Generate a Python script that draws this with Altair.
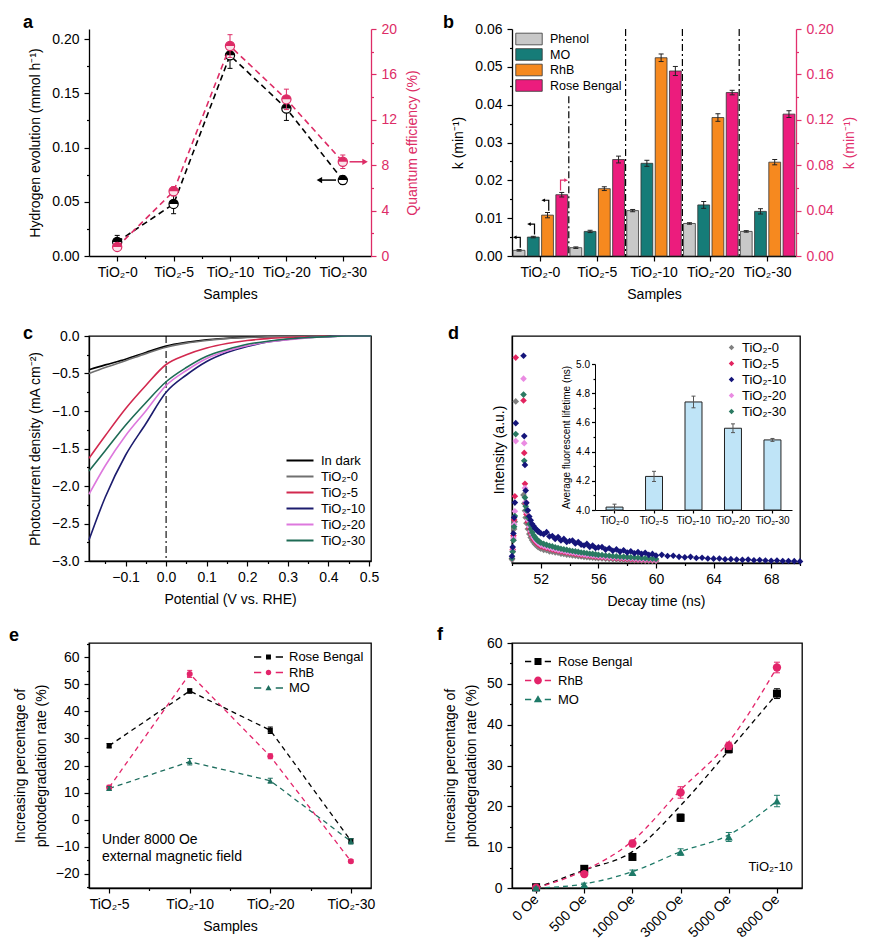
import json
import altair as alt
import pandas as pd

FONT = "Liberation Sans"

# ------------------------------------------------------------------ data
samples5 = ["TiO₂-0", "TiO₂-5", "TiO₂-10", "TiO₂-20", "TiO₂-30"]

# (a)
a_h2 = [0.013, 0.048, 0.185, 0.136, 0.070]
a_h2_err = [0.006, 0.009, 0.012, 0.011, 0.004]
a_qe = [0.8, 5.7, 18.5, 13.8, 8.3]
a_qe_err = [0.3, 0.4, 1.0, 0.9, 0.6]

# (b)
b_series = ["Phenol", "MO", "RhB", "Rose Bengal"]
b_colors = ["#C8C8C8", "#167C78", "#F6891F", "#EC1C7D"]
b_phenol = [0.0015, 0.0022, 0.0120, 0.0086, 0.0065]
b_phenol_err = [0.0002, 0.0002, 0.0003, 0.0002, 0.0002]
b_mo = [0.0050, 0.0065, 0.0245, 0.0135, 0.0118]
b_mo_err = [0.0002, 0.0003, 0.0008, 0.0009, 0.0007]
b_rhb = [0.0108, 0.0178, 0.0524, 0.0366, 0.0248]
b_rhb_err = [0.0007, 0.0005, 0.0010, 0.0010, 0.0007]
b_rose = [0.054, 0.085, 0.163, 0.144, 0.125]
b_rose_err = [0.002, 0.003, 0.004, 0.002, 0.003]
b_divider_top = [0.0422, 0.06, 0.06, 0.06]

# (c)
c_series = ["In dark", "TiO₂-0", "TiO₂-5", "TiO₂-10", "TiO₂-20", "TiO₂-30"]
c_colors = ["#000000", "#707070", "#D2294F", "#1C1C6E", "#DD78DD", "#1E6B55"]
c_potential = [-0.19, -0.15, -0.1, -0.05, 0.0, 0.05, 0.1, 0.15, 0.2, 0.25, 0.3, 0.35, 0.4, 0.45, 0.505]
c_dark = [-0.45, -0.385, -0.31, -0.22, -0.135, -0.085, -0.05, -0.03, -0.015, -0.008, -0.004, -0.002, 0.0, 0.0, 0.0]
c_tio2_0 = [-0.50, -0.42, -0.33, -0.235, -0.15, -0.095, -0.06, -0.035, -0.02, -0.01, -0.005, -0.002, 0.0, 0.0, 0.0]
c_tio2_5 = [-1.63, -1.33, -0.97, -0.66, -0.38, -0.25, -0.16, -0.10, -0.06, -0.035, -0.02, -0.01, -0.004, 0.0, 0.0]
c_tio2_10 = [-2.72, -2.15, -1.59, -1.17, -0.75, -0.52, -0.34, -0.22, -0.14, -0.08, -0.045, -0.02, -0.008, 0.0, 0.0]
c_tio2_20 = [-2.11, -1.73, -1.33, -1.0, -0.66, -0.46, -0.30, -0.20, -0.13, -0.08, -0.05, -0.025, -0.01, 0.0, 0.0]
c_tio2_30 = [-1.80, -1.53, -1.19, -0.89, -0.61, -0.42, -0.27, -0.18, -0.11, -0.07, -0.04, -0.02, -0.008, 0.0, 0.0]

# (d)
d_colors = ["#808080", "#E2245F", "#15157A", "#EA8BE2", "#2B7A62"]
d_time = [50.0, 50.05, 50.1, 50.15, 50.2, 50.26, 50.8, 50.85, 50.9, 50.95,
          51.0, 51.1, 51.2, 51.3, 51.4, 51.5, 51.6, 51.7, 51.8, 51.9, 52.0,
          52.2, 52.4, 52.6, 52.8, 53.0, 53.2, 53.4, 53.6, 53.8, 54.0,
          54.2, 54.4, 54.6, 54.8, 55.0, 55.2, 55.4, 55.6, 55.8, 56.0,
          56.25, 56.5, 56.75, 57.0, 57.25, 57.5, 57.75, 58.0,
          58.25, 58.5, 58.75, 59.0, 59.25, 59.5, 59.75, 60.0]
d_tio2_0 = [0.015, 0.05, 0.10, 0.15, 0.182, 0.712, 0.300, 0.262, 0.230, 0.200,
            0.175, 0.150, 0.128, 0.112, 0.100, 0.091, 0.083, 0.077, 0.071, 0.067, 0.063,
            0.058, 0.056, 0.051, 0.050, 0.046, 0.045, 0.041, 0.040, 0.037, 0.036,
            0.033, 0.032, 0.030, 0.029, 0.027, 0.026, 0.024, 0.023, 0.022, 0.021,
            0.020, 0.019, 0.018, 0.017, 0.016, 0.015, 0.014, 0.014,
            0.013, 0.012, 0.012, 0.011, 0.010, 0.010, 0.009, 0.009]
d_tio2_5 = [0.02, 0.06, 0.12, 0.19, 0.294, 0.905, 0.716, 0.485, 0.349, 0.262,
            0.215, 0.180, 0.152, 0.133, 0.118, 0.105, 0.097, 0.090, 0.083, 0.079, 0.074,
            0.070, 0.066, 0.063, 0.060, 0.056, 0.054, 0.051, 0.049, 0.046, 0.044,
            0.043, 0.040, 0.039, 0.036, 0.035, 0.033, 0.032, 0.030, 0.029, 0.027,
            0.026, 0.025, 0.023, 0.022, 0.021, 0.020, 0.019, 0.018,
            0.017, 0.016, 0.015, 0.015, 0.014, 0.013, 0.012, 0.012]
d_tio2_10 = [0.03, 0.07, 0.13, 0.20, 0.266, 0.616, 0.913, 0.559, 0.432, 0.319,
             0.265, 0.232, 0.205, 0.188, 0.172, 0.163, 0.152, 0.148, 0.139, 0.136, 0.131,
             0.127, 0.136, 0.117, 0.119, 0.106, 0.114, 0.099, 0.106, 0.093, 0.097,
             0.099, 0.086, 0.092, 0.081, 0.077, 0.084, 0.071, 0.077, 0.066, 0.069,
             0.070, 0.059, 0.065, 0.054, 0.060, 0.050, 0.056, 0.046,
             0.052, 0.043, 0.048, 0.040, 0.045, 0.036, 0.040, 0.033]
d_tio2_20 = [0.02, 0.055, 0.11, 0.17, 0.228, 0.537, 0.812, 0.528, 0.330, 0.270,
             0.225, 0.190, 0.160, 0.140, 0.125, 0.112, 0.103, 0.096, 0.090, 0.085, 0.080,
             0.075, 0.071, 0.068, 0.064, 0.061, 0.058, 0.055, 0.053, 0.050, 0.048,
             0.046, 0.044, 0.042, 0.040, 0.038, 0.036, 0.035, 0.033, 0.032, 0.030,
             0.029, 0.027, 0.026, 0.025, 0.024, 0.023, 0.022, 0.021,
             0.020, 0.019, 0.018, 0.017, 0.016, 0.016, 0.015, 0.014]
d_tio2_30 = [0.02, 0.05, 0.10, 0.16, 0.207, 0.568, 0.742, 0.450, 0.288, 0.250,
             0.232, 0.200, 0.172, 0.150, 0.135, 0.122, 0.113, 0.105, 0.098, 0.094, 0.089,
             0.084, 0.080, 0.076, 0.073, 0.069, 0.066, 0.063, 0.060, 0.058, 0.055,
             0.053, 0.051, 0.049, 0.046, 0.045, 0.043, 0.041, 0.040, 0.038, 0.036,
             0.035, 0.033, 0.032, 0.030, 0.029, 0.028, 0.027, 0.026,
             0.025, 0.024, 0.023, 0.022, 0.021, 0.020, 0.019, 0.018]
d_tail_time = [60.4, 60.8, 61.2, 61.6, 62.0, 62.4, 62.8, 63.2, 63.6, 64.0, 64.4, 64.8, 65.2,
               65.6, 66.0, 66.4, 66.8, 67.2, 67.6, 68.0, 68.4, 68.8, 69.2, 69.6, 70.0]
d_tail_tio2_10 = [0.036, 0.031, 0.032, 0.027, 0.025, 0.027, 0.022, 0.023, 0.020, 0.019, 0.020, 0.016, 0.017,
                  0.015, 0.014, 0.015, 0.012, 0.013, 0.011, 0.010, 0.011, 0.009, 0.009, 0.008, 0.007]
d_life = [4.02, 4.23, 4.74, 4.56, 4.48]
d_life_err = [0.02, 0.035, 0.04, 0.03, 0.01]

# (e)
e_samples = ["TiO₂-5", "TiO₂-10", "TiO₂-20", "TiO₂-30"]
e_series = ["Rose Bengal", "RhB", "MO"]
e_colors = ["#000000", "#E3246A", "#1E6E5E"]
e_rose = [27.3, 47.5, 33.0, -7.8]
e_rose_err = [0.8, 0.8, 1.2, 0.8]
e_rhb = [11.9, 53.8, 23.4, -15.3]
e_rhb_err = [0.8, 1.3, 0.9, 0.6]
e_mo = [11.5, 21.4, 14.4, -8.0]
e_mo_err = [0.7, 1.2, 0.9, 1.0]

# (f)
f_fields = ["0 Oe", "500 Oe", "1000 Oe", "3000 Oe", "5000 Oe", "8000 Oe"]
f_series = ["Rose Bengal", "RhB", "MO"]
f_colors = ["#000000", "#E3246A", "#1E7A68"]
f_rose = [0.2, 4.7, 7.6, 17.2, 34.0, 47.6]
f_rose_err = [0.3, 0.5, 0.6, 0.9, 0.9, 1.2]
f_rhb = [0.1, 3.4, 10.9, 23.4, 34.8, 54.0]
f_rhb_err = [0.3, 0.6, 0.8, 1.4, 0.9, 1.3]
f_mo = [0.0, 0.8, 3.8, 8.8, 12.5, 21.3]
f_mo_err = [0.2, 0.4, 0.6, 0.8, 1.1, 1.4]
f_rose_fit = [0.0, 4.4, 8.9, 20.2, 33.7, 47.6]
f_rhb_fit = [0.0, 4.3, 11.5, 24.0, 35.8, 54.0]
f_mo_fit = [0.0, 1.0, 4.0, 8.9, 13.0, 21.3]


# ------------------------------------------------------------------ helpers
def steps(start, stop, step):
    n = int(round((stop - start) / step))
    return [round(start + i * step, 6) for i in range(n + 1)]


def is_major(step, origin=0.0):
    return f"abs((datum.value - {origin}) / {step} - round((datum.value - {origin}) / {step})) < 0.01"


def minor_props(step, origin=0.0):
    test = is_major(step, origin)
    return dict(tickSize={"condition": {"test": test, "value": 5}, "value": 2.5},
                labelExpr=f"{test} ? datum.label : ''")


def cat_props(labels):
    test = is_major(1)
    arr = json.dumps(labels, ensure_ascii=False)
    return dict(tickSize={"condition": {"test": test, "value": 5}, "value": 2.5},
                labelExpr=f"{test} ? {arr}[round(datum.value)] : ''")


def err_layers(data, xenc, ybuild, lo, hi, color, cap=5, xoff=None):
    extra = {}
    if xoff is not None:
        extra["xOffset"] = xoff
    base = alt.Chart(data)
    r = base.mark_rule(strokeWidth=1, color=color).encode(x=xenc, y=ybuild(lo), y2=alt.Y2(hi), **extra)
    t1 = base.mark_tick(orient="horizontal", size=cap, thickness=1, opacity=1, color=color).encode(
        x=xenc, y=ybuild(lo), **extra)
    t2 = base.mark_tick(orient="horizontal", size=cap, thickness=1, opacity=1, color=color).encode(
        x=xenc, y=ybuild(hi), **extra)
    return [r, t1, t2]


def letter(txt, dx, dy):
    return alt.Chart(pd.DataFrame({"t": [txt]})).mark_text(
        align="left", baseline="alphabetic", fontSize=18, fontWeight="bold", color="black").encode(
        x=alt.value(dx), y=alt.value(dy), text="t:N")


TOP_HALF = "M-1,0A1,1 0 0,1 1,0Z"
RECT = "M-1,-0.44L1,-0.44L1,0.44L-1,0.44Z"
ARROW_L = "M-1,-0.7L-0.4,-1L-0.4,-0.4Z M-0.4,-0.8L0.3,-0.8L0.3,1L0.1,1L0.1,-0.6L-0.4,-0.6Z"
ARROW_R = "M1,-0.7L0.4,-1L0.4,-0.4Z M0.4,-0.8L-0.3,-0.8L-0.3,1L-0.1,1L-0.1,-0.6L0.4,-0.6Z"

# ------------------------------------------------------------------ panel a
PINK_A = "#DD2C66"
da = pd.DataFrame({"idx": list(range(5)), "h2": a_h2, "h2e": a_h2_err, "qe": a_qe, "qee": a_qe_err})
da["h2_lo"] = da["h2"] - da["h2e"]
da["h2_hi"] = da["h2"] + da["h2e"]
da["qe_lo"] = da["qe"] - da["qee"]
da["qe_hi"] = da["qe"] + da["qee"]


def xa(field):
    return alt.X(f"{field}:Q", scale=alt.Scale(domain=[-0.5, 4.5], nice=False, zero=False),
                 axis=alt.Axis(values=steps(0, 4, 0.5), title="Samples", orient="bottom",
                               **cat_props(samples5)))


def ya_l(field):
    return alt.Y(f"{field}:Q", scale=alt.Scale(domain=[0, 0.2093], nice=False, zero=False),
                 axis=alt.Axis(values=steps(0, 0.2, 0.025), format=".2f",
                               title="Hydrogen evolution (mmol h⁻¹)", orient="left", **minor_props(0.05)))


def ya_r(field):
    return alt.Y(f"{field}:Q", scale=alt.Scale(domain=[0, 20], nice=False, zero=False),
                 axis=alt.Axis(values=steps(0, 20, 2), title="Quantum efficiency (%)", orient="right",
                               labelColor=PINK_A, titleColor=PINK_A, domainColor=PINK_A, tickColor=PINK_A,
                               titleAngle=270, titleBaseline="top", **minor_props(4)))


a_arrow_l = pd.DataFrame({"x1": [3.62], "x2": [3.88], "head": [3.585], "y": [a_h2[4]]})
a_arrow_r = pd.DataFrame({"x1": [4.12], "x2": [4.36], "head": [4.395], "y": [a_qe[4]]})

ba = alt.Chart(da)
left_a = alt.layer(
    ba.mark_line(color="black", strokeDash=[6, 4], strokeWidth=1.6).encode(x=xa("idx"), y=ya_l("h2")),
    *err_layers(da, xa("idx"), ya_l, "h2_lo", "h2_hi", "black", cap=5),
    ba.mark_point(shape="circle", filled=True, fill="white", stroke="black", strokeWidth=1.2, size=85,
                  opacity=1).encode(x=xa("idx"), y=ya_l("h2")),
    ba.mark_point(shape=TOP_HALF, filled=True, color="black", size=85, opacity=1).encode(
        x=xa("idx"), y=ya_l("h2")),
    alt.Chart(a_arrow_l).mark_rule(color="black", strokeWidth=1.5).encode(
        x=xa("x1"), x2="x2:Q", y=ya_l("y")),
    alt.Chart(a_arrow_l).mark_point(shape="triangle-left", filled=True, color="black", size=40,
                                    opacity=1).encode(x=xa("head"), y=ya_l("y")),
)
right_a = alt.layer(
    ba.mark_line(color=PINK_A, strokeDash=[6, 4], strokeWidth=1.6).encode(x=xa("idx"), y=ya_r("qe")),
    *err_layers(da, xa("idx"), ya_r, "qe_lo", "qe_hi", PINK_A, cap=5),
    ba.mark_point(shape="circle", filled=True, fill="#FBE3EA", stroke=PINK_A, strokeWidth=1.2, size=85,
                  opacity=1).encode(x=xa("idx"), y=ya_r("qe")),
    ba.mark_point(shape=TOP_HALF, filled=True, color=PINK_A, size=85, opacity=1).encode(
        x=xa("idx"), y=ya_r("qe")),
    alt.Chart(a_arrow_r).mark_rule(color=PINK_A, strokeWidth=1.5).encode(
        x=xa("x1"), x2="x2:Q", y=ya_r("y")),
    alt.Chart(a_arrow_r).mark_point(shape="triangle-right", filled=True, color=PINK_A, size=40,
                                    opacity=1).encode(x=xa("head"), y=ya_r("y")),
    letter("a", -66, -1),
)
panel_a = alt.layer(left_a, right_a).resolve_scale(y="independent").properties(
    width=282, height=227, view=alt.ViewBackground(stroke="transparent"))

# ------------------------------------------------------------------ panel b
PINK_B = "#E2306E"
rows = []
for s, vals, errs in zip(b_series, [b_phenol, b_mo, b_rhb, b_rose],
                         [b_phenol_err, b_mo_err, b_rhb_err, b_rose_err]):
    for smp, v, e in zip(samples5, vals, errs):
        rows.append({"sample": smp, "ser_b": s, "k": v, "lo": v - e, "hi": v + e})
db = pd.DataFrame(rows)
db_l = db[db["ser_b"] != "Rose Bengal"].copy()
db_r = db[db["ser_b"] == "Rose Bengal"].copy()
db_arr_l = db_l[db_l["sample"] == samples5[0]].copy()
db_arr_l["ay"] = db_arr_l["hi"] + 0.0021
db_arr_r = db_r[db_r["sample"] == samples5[0]].copy()
db_arr_r["ay"] = db_arr_r["hi"] + 0.007
db_div = pd.DataFrame({"sample": samples5[1:], "top": b_divider_top, "bottom": [0.0] * 4})

xb_scale = alt.Scale(domain=samples5, paddingInner=0, paddingOuter=0)
xb_axis = alt.Axis(title="Samples", labelAngle=0, orient="bottom")
xb = alt.X("sample:N", scale=xb_scale, axis=xb_axis, sort=samples5)
xob = alt.XOffset("ser_b:N", scale=alt.Scale(domain=b_series, paddingInner=0.17, paddingOuter=0.08))


def yb_l(field):
    return alt.Y(f"{field}:Q", scale=alt.Scale(domain=[0, 0.06], nice=False, zero=True),
                 axis=alt.Axis(values=steps(0, 0.06, 0.005), format=".2f",
                               title="k (min⁻¹)", orient="left", **minor_props(0.01)))


def yb_r(field):
    return alt.Y(f"{field}:Q", scale=alt.Scale(domain=[0, 0.2], nice=False, zero=True),
                 axis=alt.Axis(values=steps(0, 0.2, 0.02), format=".2f", title="k (min⁻¹)",
                               orient="right", labelColor=PINK_B, titleColor=PINK_B, domainColor=PINK_B,
                               tickColor=PINK_B, titleAngle=270, titleBaseline="top", **minor_props(0.04)))


leg_b = alt.Legend(title=None, orient="none", legendX=3, legendY=3, symbolType=RECT, symbolSize=700,
                   symbolStrokeColor="#333333", symbolStrokeWidth=0.8, labelFontSize=12.5, clipHeight=14,
                   rowPadding=1.5, labelOffset=7)
left_b = alt.layer(
    alt.Chart(db_l).mark_bar(stroke="#333333", strokeWidth=0.8).encode(
        x=xb, xOffset=xob, y=yb_l("k"),
        color=alt.Color("ser_b:N", scale=alt.Scale(domain=b_series, range=b_colors), legend=leg_b)),
    *err_layers(db_l, xb, yb_l, "lo", "hi", "#222222", cap=5, xoff=xob),
    alt.Chart(db_div).mark_rule(color="black", strokeDash=[7, 3, 2, 3], strokeWidth=1.2).encode(
        x=alt.X("sample:N", scale=xb_scale, axis=xb_axis, sort=samples5, bandPosition=0),
        y=yb_l("top"), y2="bottom:Q"),
    alt.Chart(db_arr_l).mark_point(shape=ARROW_L, filled=True, color="black", size=150, opacity=1).encode(
        x=xb, xOffset=xob, y=yb_l("ay")),
)
right_b = alt.layer(
    alt.Chart(db_r).mark_bar(stroke="#333333", strokeWidth=0.8, color=b_colors[3]).encode(
        x=xb, xOffset=xob, y=yb_r("k")),
    *err_layers(db_r, xb, yb_r, "lo", "hi", "#222222", cap=5, xoff=xob),
    alt.Chart(db_arr_r).mark_point(shape=ARROW_R, filled=True, color=PINK_B, size=150, opacity=1).encode(
        x=xb, xOffset=xob, y=yb_r("ay")),
    letter("b", -69, -1),
)
panel_b = alt.layer(left_b, right_b).resolve_scale(y="independent").properties(
    width=284, height=227, view=alt.ViewBackground(stroke="transparent"))

# ------------------------------------------------------------------ panel c
rows = []
for s, vals in zip(c_series, [c_dark, c_tio2_0, c_tio2_5, c_tio2_10, c_tio2_20, c_tio2_30]):
    for p, v in zip(c_potential, vals):
        rows.append({"pot": p, "j": v, "ser_c": s})
dc = pd.DataFrame(rows)


def xc(field):
    return alt.X(f"{field}:Q", scale=alt.Scale(domain=[-0.19, 0.505], nice=False, zero=False),
                 axis=alt.Axis(values=steps(-0.15, 0.5, 0.05), format=".1f",
                               title="Potential (V vs. RHE)", orient="bottom", **minor_props(0.1)))


yc = alt.Y("j:Q", scale=alt.Scale(domain=[-3, 0], nice=False, zero=False),
           axis=alt.Axis(values=steps(-3, 0, 0.25), format=".1f",
                         title="Photocurrent density (mA cm⁻²)", orient="left", **minor_props(0.5)))
leg_c = alt.Legend(title=None, orient="none", legendX=196, legendY=118, symbolType="stroke", symbolSize=729,
                   symbolStrokeWidth=2.2, labelFontSize=13, clipHeight=13, rowPadding=2, labelOffset=6)
panel_c = alt.layer(
    alt.Chart(pd.DataFrame({"pot": [0.0]})).mark_rule(color="black", strokeDash=[7, 3, 2, 3],
                                                      strokeWidth=1.1).encode(x=xc("pot")),
    alt.Chart(dc).mark_line(strokeWidth=1.6, interpolate="monotone").encode(
        x=xc("pot"), y=yc,
        color=alt.Color("ser_c:N", scale=alt.Scale(domain=c_series, range=c_colors), legend=leg_c,
                        sort=c_series)),
    letter("c", -66, 3),
).properties(width=282, height=225)

# ------------------------------------------------------------------ panel d
rows = []
draw_order = [("TiO₂-0", d_tio2_0), ("TiO₂-5", d_tio2_5), ("TiO₂-20", d_tio2_20), ("TiO₂-30", d_tio2_30),
              ("TiO₂-10", d_tio2_10)]
for s, vals in draw_order:
    assert len(vals) == len(d_time)
    for t, v in zip(d_time, vals):
        rows.append({"t": t, "I": v, "ser_d": s})
for t, v in zip(d_tail_time, d_tail_tio2_10):
    rows.append({"t": t, "I": v, "ser_d": "TiO₂-10"})
dd = pd.DataFrame(rows)

di = pd.DataFrame({"sample": samples5, "life": d_life, "err": d_life_err})
di["lo"] = di["life"] - di["err"]
di["hi"] = di["life"] + di["err"]
di["base"] = 4.0

leg_d = alt.Legend(title=None, orient="none", legendX=213, legendY=5, symbolType="diamond", symbolSize=30,
                   labelFontSize=13, clipHeight=13, rowPadding=2, labelOffset=4)
main_d = alt.layer(
    alt.Chart(dd).mark_point(shape="diamond", filled=True, size=44, opacity=1).encode(
        x=alt.X("t:Q", scale=alt.Scale(domain=[50, 70], nice=False, zero=False),
                axis=alt.Axis(values=steps(50, 70, 2), format="d", title="Decay time (ns)", orient="bottom",
                              **minor_props(4, 52))),
        y=alt.Y("I:Q", scale=alt.Scale(domain=[0, 1], nice=False),
                axis=alt.Axis(labels=False, ticks=False, title="Intensity (a.u.)", orient="left",
                              titlePadding=6)),
        color=alt.Color("ser_d:N", scale=alt.Scale(domain=samples5, range=d_colors), legend=leg_d),
    ),
    letter("d", -64, 3),
)
xi = alt.X("sample:N", sort=samples5,
           scale=alt.Scale(domain=samples5, range=[83, 280], paddingInner=0.57, paddingOuter=0.28),
           axis=alt.Axis(title=None, orient="bottom", offset=-53, labelFontSize=10, labelAngle=0, tickSize=3,
                         labelPadding=2, domainWidth=1))


def yi(field):
    return alt.Y(f"{field}:Q", scale=alt.Scale(domain=[4.0, 5.0], range=[174, 28], nice=False, zero=False),
                 axis=alt.Axis(values=steps(4.0, 5.0, 0.1), format=".1f",
                               title="Average fluorescent lifetime (ns)", titleFontSize=10, labelFontSize=10,
                               orient="left", offset=-83, labelPadding=2, titlePadding=4, domainWidth=1,
                               tickSize={"condition": {"test": is_major(0.2), "value": 3.5}, "value": 2},
                               labelExpr=f"{is_major(0.2)} ? datum.label : ''"))


inset_d = alt.layer(
    alt.Chart(di).mark_bar(fill="#BFE4F7", stroke="#222222", strokeWidth=1).encode(
        x=xi, y=yi("life"), y2="base:Q"),
    *err_layers(di, xi, yi, "lo", "hi", "#555555", cap=4),
)
panel_d = alt.layer(main_d, inset_d).resolve_scale(x="independent", y="independent").properties(
    width=288, height=227)

# ------------------------------------------------------------------ panel e
rows = []
for s, vals, errs in zip(e_series, [e_rose, e_rhb, e_mo], [e_rose_err, e_rhb_err, e_mo_err]):
    for i, (v, e) in enumerate(zip(vals, errs)):
        rows.append({"idx": i, "ser_e": s, "v": v, "lo": v - e, "hi": v + e})
de = pd.DataFrame(rows)


def xe(field):
    return alt.X(f"{field}:Q", scale=alt.Scale(domain=[-0.25, 3.25], nice=False, zero=False),
                 axis=alt.Axis(values=steps(0, 3, 0.5), title="Samples", orient="bottom",
                               **cat_props(e_samples)))


def ye(field):
    return alt.Y(f"{field}:Q", scale=alt.Scale(domain=[-25.2, 65.2], nice=False, zero=False),
                 axis=alt.Axis(values=steps(-25, 65, 5),
                               title=["Increasing percentage of", "photodegradation rate (%)"],
                               orient="left", titlePadding=7, titleLineHeight=21, **minor_props(10)))


e_cscale = alt.Scale(domain=e_series, range=e_colors)
DASH_E = "M-1,-0.05L-0.5,-0.05L-0.5,0.05L-1,0.05Z M0.5,-0.05L1,-0.05L1,0.05L0.5,0.05Z "
glyph_e = [DASH_E + "M-0.17,-0.17L0.17,-0.17L0.17,0.17L-0.17,0.17Z",
           DASH_E + "M0.19,0A0.19,0.19 0 1,1 -0.19,0A0.19,0.19 0 1,1 0.19,0Z",
           DASH_E + "M0,-0.2L0.21,0.15L-0.21,0.15Z"]
leg_e = alt.Legend(title=None, orient="none", legendX=164, legendY=7, symbolSize=841, clipHeight=14,
                   rowPadding=1.5, labelFontSize=13, labelOffset=5)
e_shapes = ["square", "circle", "triangle-up"]
e_sizes = [26, 36, 34]
e_layers = []
for s, c in zip(e_series, e_colors):
    sub = de[de["ser_e"] == s]
    e_layers.append(alt.Chart(sub).mark_line(strokeDash=[5, 4], strokeWidth=1.3, color=c).encode(
        x=xe("idx"), y=ye("v")))
for s, c, shp, sz in zip(e_series, e_colors, e_shapes, e_sizes):
    sub = de[de["ser_e"] == s]
    e_layers.extend(err_layers(sub, xe("idx"), ye, "lo", "hi", c, cap=5))
    e_layers.append(alt.Chart(sub).mark_point(shape=shp, filled=True, color=c, size=sz, opacity=1).encode(
        x=xe("idx"), y=ye("v")))
e_layers.append(alt.Chart(de).transform_filter("false").mark_point(filled=True, opacity=1).encode(
    color=alt.Color("ser_e:N", scale=e_cscale, legend=leg_e),
    shape=alt.Shape("ser_e:N", scale=alt.Scale(domain=e_series, range=glyph_e), legend=leg_e)))
e_note = pd.DataFrame({"x": [-0.09], "y": [-5.0], "text": ["Under 8000 Oe\nexternal magnetic field"]})
e_layers.append(alt.Chart(e_note).mark_text(align="left", baseline="top", fontSize=14, lineBreak="\n",
                                            lineHeight=17, color="black").encode(
    x=xe("x"), y=ye("y"), text="text:N"))
e_layers.append(letter("e", -80, -2))
panel_e = alt.layer(*e_layers).properties(width=282, height=245)

# ------------------------------------------------------------------ panel f
rows = []
for s, vals, errs, fits in zip(f_series, [f_rose, f_rhb, f_mo], [f_rose_err, f_rhb_err, f_mo_err],
                               [f_rose_fit, f_rhb_fit, f_mo_fit]):
    for i, (v, e, ft) in enumerate(zip(vals, errs, fits)):
        rows.append({"idx": i, "ser_f": s, "v": v, "lo": v - e, "hi": v + e, "fit": ft})
dfr = pd.DataFrame(rows)


def xf(field):
    return alt.X(f"{field}:Q", scale=alt.Scale(domain=[-0.5, 5.52], nice=False, zero=False),
                 axis=alt.Axis(values=[0, 1, 2, 3, 4, 5], labelExpr=json.dumps(f_fields) + "[round(datum.value)]",
                               title=None, orient="bottom", labelAngle=315, labelAlign="right",
                               labelBaseline="middle", labelPadding=4))


def yf(field):
    return alt.Y(f"{field}:Q", scale=alt.Scale(domain=[0, 60], nice=False, zero=False),
                 axis=alt.Axis(values=steps(0, 60, 5),
                               title=["Increasing percentage of", "photodegradation rate (%)"],
                               orient="left", titlePadding=8, titleLineHeight=21, **minor_props(10)))


f_cscale = alt.Scale(domain=f_series, range=f_colors)
DASH_F = "M-1,-0.06L-0.52,-0.06L-0.52,0.06L-1,0.06Z M0.52,-0.06L1,-0.06L1,0.06L0.52,0.06Z "
glyph_f = [DASH_F + "M-0.27,-0.27L0.27,-0.27L0.27,0.27L-0.27,0.27Z",
           DASH_F + "M0.3,0A0.3,0.3 0 1,1 -0.3,0A0.3,0.3 0 1,1 0.3,0Z",
           DASH_F + "M0,-0.32L0.32,0.22L-0.32,0.22Z"]
leg_f = alt.Legend(title=None, orient="none", legendX=12, legendY=10, symbolSize=676, clipHeight=17,
                   rowPadding=2, labelFontSize=13, labelOffset=6)
f_shapes = ["square", "circle", "triangle-up"]
f_sizes = [64, 70, 64]
f_layers = []
for s, c in zip(f_series, f_colors):
    sub = dfr[dfr["ser_f"] == s]
    f_layers.append(alt.Chart(sub).mark_line(strokeDash=[5, 4], strokeWidth=1.3, color=c,
                                             interpolate="monotone").encode(x=xf("idx"), y=yf("fit")))
for s, c, shp, sz in zip(f_series, f_colors, f_shapes, f_sizes):
    sub = dfr[dfr["ser_f"] == s]
    f_layers.extend(err_layers(sub, xf("idx"), yf, "lo", "hi", c, cap=6))
    f_layers.append(alt.Chart(sub).mark_point(shape=shp, filled=True, color=c, size=sz, opacity=1).encode(
        x=xf("idx"), y=yf("v")))
f_layers.append(alt.Chart(dfr).transform_filter("false").mark_point(filled=True, opacity=1).encode(
    color=alt.Color("ser_f:N", scale=f_cscale, legend=leg_f),
    shape=alt.Shape("ser_f:N", scale=alt.Scale(domain=f_series, range=glyph_f), legend=leg_f)))
f_note = pd.DataFrame({"x": [5.33], "y": [4.2], "text": ["TiO₂-10"]})
f_layers.append(alt.Chart(f_note).mark_text(align="right", baseline="alphabetic", fontSize=13,
                                            color="black").encode(x=xf("x"), y=yf("y"), text="text:N"))
f_layers.append(letter("f", -75, -3))
panel_f = alt.layer(*f_layers).properties(width=290, height=245)

# ------------------------------------------------------------------ assemble
chart = alt.concat(panel_a, panel_b, panel_c, panel_d, panel_e, panel_f, columns=2,
                   spacing={"row": 80, "column": 141}, bounds="flush").resolve_scale(
    color="independent", shape="independent").properties(
    padding={"left": 0, "top": 5, "right": 5, "bottom": 5}
).configure(font=FONT).configure_view(stroke="black", strokeWidth=1.3).configure_axis(
    domainColor="black", domainWidth=1.3, tickColor="black", tickWidth=1.2, tickSize=5,
    labelColor="black", titleColor="black", labelFontSize=14, titleFontSize=14, titleFontWeight="normal",
    grid=False, labelFont=FONT, titleFont=FONT, labelFlush=False, labelOverlap=False
).configure_axisLeft(labelPadding=5, titlePadding=9).configure_axisRight(
    labelPadding=5, titlePadding=9).configure_axisBottom(labelPadding=4, titlePadding=8).configure_legend(
    labelFont=FONT, labelColor="black").configure_point(opacity=1).configure_tick(opacity=1)

chart.save("out.html", embed_options={"renderer": "svg", "actions": False})
